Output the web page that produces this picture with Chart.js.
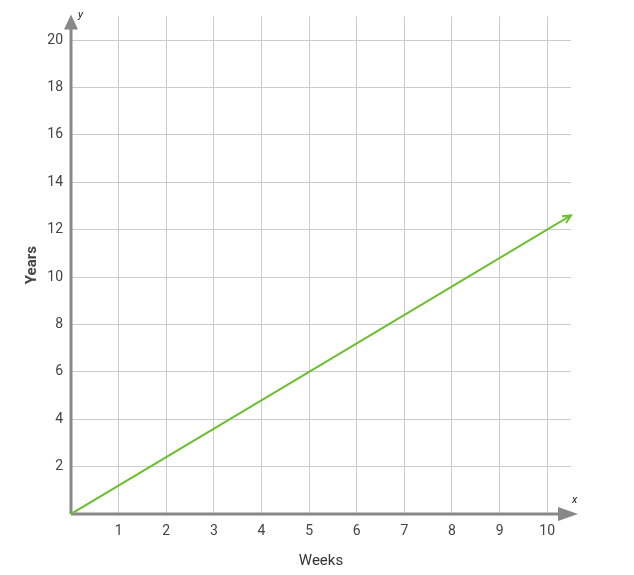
<!DOCTYPE html>
<html>
<head>
<meta charset="utf-8">
<script src="https://cdn.jsdelivr.net/npm/chart.js@4"></script>
<style>
  html, body { margin: 0; padding: 0; background: #fff; }
  #wrap { width: 634px; height: 575px; }
</style>
</head>
<body>
<div id="wrap"><canvas id="chart" width="634" height="575"></canvas></div>
<script>
// data
const weeks = [0, 5, 10.5];
const years = [0, 6, 12.6];
const xTicks = [0, 1, 2, 3, 4, 5, 6, 7, 8, 9, 10];
const yTicks = [0, 2, 4, 6, 8, 10, 12, 14, 16, 18, 20];

const lineColor = '#6cbf2f';
const axisColor = '#888888';

// draws the arrowed axes, the x / y letters and the arrowhead on the line
const axesPlugin = {
    id: 'axesPlugin',
    beforeDatasetsDraw(chart) {
        const ctx = chart.ctx;
        const xs = chart.scales.x, ys = chart.scales.y;
        const ox = xs.getPixelForValue(0), oy = ys.getPixelForValue(0);
        const right = chart.chartArea.right, top = chart.chartArea.top;
        ctx.save();
        ctx.strokeStyle = axisColor;
        ctx.fillStyle = axisColor;
        ctx.lineWidth = 3;
        ctx.beginPath();
        ctx.moveTo(ox, oy);
        ctx.lineTo(right - 10, oy);
        ctx.moveTo(ox, oy);
        ctx.lineTo(ox, top + 10);
        ctx.stroke();
        // x arrow
        ctx.beginPath();
        ctx.moveTo(right + 7, oy);
        ctx.lineTo(right - 13, oy - 7);
        ctx.lineTo(right - 13, oy + 7);
        ctx.closePath();
        ctx.fill();
        // y arrow
        ctx.beginPath();
        ctx.moveTo(ox, top - 2);
        ctx.lineTo(ox - 7, top + 13);
        ctx.lineTo(ox + 7, top + 13);
        ctx.closePath();
        ctx.fill();
        ctx.fillStyle = '#222';
        ctx.font = 'italic 11px Roboto';
        ctx.textAlign = 'left';
        ctx.textBaseline = 'middle';
        ctx.fillText('y', ox + 7, top - 1);
        ctx.fillText('x', right + 1, oy - 14);
        ctx.restore();
    },
    afterDatasetsDraw(chart) {
        const pts = chart.getDatasetMeta(0).data;
        const a = pts[pts.length - 2], b = pts[pts.length - 1];
        const ang = Math.atan2(b.y - a.y, b.x - a.x);
        const ctx = chart.ctx;
        ctx.save();
        ctx.strokeStyle = lineColor;
        ctx.lineWidth = 2;
        ctx.beginPath();
        ctx.moveTo(b.x - 9 * Math.cos(ang - 0.45), b.y - 9 * Math.sin(ang - 0.45));
        ctx.lineTo(b.x, b.y);
        ctx.lineTo(b.x - 9 * Math.cos(ang + 0.45), b.y - 9 * Math.sin(ang + 0.45));
        ctx.stroke();
        ctx.restore();
    }
};

new Chart(document.getElementById('chart'), {
    type: 'line',
    data: {
        datasets: [{
            data: weeks.map((w, i) => ({ x: w, y: years[i] })),
            borderColor: lineColor,
            borderWidth: 2,
            pointRadius: 0,
            fill: false
        }]
    },
    options: {
        responsive: false,
        animation: false,
        layout: { padding: { left: 0, top: 14, right: 63, bottom: 0 } },
        plugins: { legend: { display: false }, tooltip: { enabled: false } },
        scales: {
            x: {
                type: 'linear',
                min: 0,
                max: 10.5,
                afterBuildTicks: s => { s.ticks = xTicks.map(v => ({ value: v })); },
                afterFit: s => { s.height = 61; },
                grid: { color: '#cccccc', lineWidth: 1, drawTicks: false },
                border: { display: false },
                ticks: {
                    padding: 9,
                    color: '#444',
                    font: { family: 'Roboto', size: 14 },
                    maxRotation: 0,
                    callback: v => v === 0 ? '' : v
                },
                title: {
                    display: true,
                    text: 'Weeks',
                    color: '#333',
                    font: { family: 'Roboto', size: 15 },
                    padding: { top: 0, bottom: 5 }
                }
            },
            y: {
                min: 0,
                max: 21,
                afterBuildTicks: s => { s.ticks = yTicks.map(v => ({ value: v })); },
                afterFit: s => { s.width = 71; },
                grid: { color: '#cccccc', lineWidth: 1, drawTicks: false },
                border: { display: false },
                ticks: {
                    padding: 8,
                    color: '#444',
                    font: { family: 'Roboto', size: 14 },
                    callback: v => v === 0 ? '' : v
                },
                title: {
                    display: true,
                    text: 'Years',
                    color: '#444',
                    font: { family: 'Roboto', size: 15, weight: 'bold' },
                    padding: { top: 23, bottom: 0 }
                }
            }
        }
    },
    plugins: [axesPlugin]
});
</script>
</body>
</html>
